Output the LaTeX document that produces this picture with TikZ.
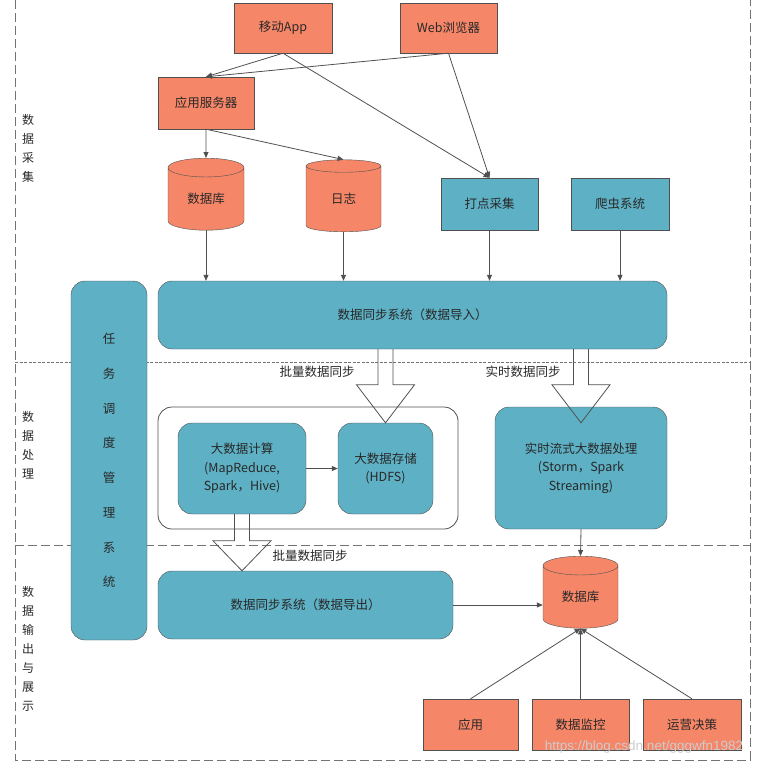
\documentclass[tikz,border=0pt]{standalone}
\usepackage{fontspec}
\setmainfont{Noto Sans CJK SC}
\newfontfamily\wmfont{Liberation Sans}
\usetikzlibrary{shapes,shapes.geometric}
\usetikzlibrary{calc,arrows.meta}
\definecolor{salmon}{RGB}{246,134,104}
\definecolor{tealbox}{RGB}{94,176,196}
\definecolor{edge}{RGB}{80,80,80}
\definecolor{ink}{RGB}{40,40,40}
\tikzstyle{obox}=[draw=edge, fill=salmon, text=ink, inner sep=0pt, font=\fontsize{12.5}{15}\selectfont]
\tikzstyle{tbox}=[draw=edge, fill=tealbox, text=ink, inner sep=0pt, rounded corners=14pt, align=center, font=\fontsize{12.5}{18.5}\selectfont]
\tikzstyle{dbase}=[cylinder, shape border rotate=90, aspect=0.5, draw=edge, fill=salmon, text=ink, inner sep=0pt, font=\fontsize{12.5}{15}\selectfont]
\tikzstyle{stage}=[text=ink, align=center, inner sep=0pt, font=\fontsize{12}{19}\selectfont]
\tikzstyle{flow}=[draw=edge, line width=0.8pt, -{Triangle[length=6pt,width=5pt]}]
\tikzstyle{hollow}=[draw=edge, line width=0.8pt, line join=miter]
\tikzstyle{frame}=[draw=edge!80, line width=1pt, dash pattern=on 9pt off 4pt]
\tikzstyle{sepfine}=[draw=edge!80, line width=0.9pt, dash pattern=on 3pt off 1.5pt]
\newcommand{\hollowarrow}[3][38]{%
\draw[hollow] let \p1=#2, \p2=#3 in
  (\x1-7.5pt,\y1) -- (\x1-7.5pt,\y2+#1pt) -- (\x1-29pt,\y2+#1pt) -- (\x2,\y2)
  -- (\x1+29pt,\y2+#1pt) -- (\x1+7.5pt,\y2+#1pt) -- (\x1+7.5pt,\y1);}

\begin{document}
\begin{tikzpicture}[x=1pt,y=-1pt]
\useasboundingbox (0,0) rectangle (770,766);
% stages
\draw[frame] (15,0) -- (15,760) -- (750,760) -- (750,0);
\draw[sepfine] (15,362) -- (750,362);
\draw[frame] (15,545) -- (750,545);
\node[stage] (st1) at (28,148) {数\\据\\采\\集};
\node[stage] (st2) at (28,445.5) {数\\据\\处\\理};
\node[stage] (st3) at (28,649) {数\\据\\输\\出\\与\\展\\示};

% collection
\node[obox, minimum width=98pt, minimum height=50pt] (app) at (283,28) {移动App};
\node[obox, minimum width=97pt, minimum height=50pt] (web) at (448.5,28) {Web浏览器};
\node[obox, minimum width=96pt, minimum height=52pt] (srv) at (206,103) {应用服务器};
\node[dbase, minimum width=76pt, minimum height=72pt] (db) at (206,199) {数据库};
\node[dbase, minimum width=75pt, minimum height=72pt] (log) at (343.5,199) {日志};
\node[obox, fill=tealbox, minimum width=97pt, minimum height=52pt] (dot) at (489.5,204) {打点采集};
\node[obox, fill=tealbox, minimum width=98pt, minimum height=52pt] (crawl) at (620,204) {爬虫系统};
\node[tbox, minimum width=509pt, minimum height=68pt] (imp) at (412.5,315) {数据同步系统（数据导入）};

\draw[flow] (app.south) -- (srv.north);
\draw[flow] (web.south) -- (srv.north);
\draw[flow] (app.south) -- (dot.north);
\draw[flow] (web.south) -- (dot.north);
\draw[flow] (srv.south) -- (db.north);
\draw[flow] (srv.south) -- (log.north);
\draw[flow] (db.south) -- (db.south |- imp.north);
\draw[flow] (log.south) -- (log.south |- imp.north);
\draw[flow] (dot.south) -- (dot.south |- imp.north);
\draw[flow] (crawl.south) -- (crawl.south |- imp.north);

% scheduler
\node[tbox, minimum width=76pt, minimum height=359pt, font=\fontsize{12.5}{34.7}\selectfont] (task) at (109,460.5) {任\\务\\调\\度\\管\\理\\系\\统};

% processing
\node[draw=edge, fill=white, rounded corners=14pt, line width=0.8pt, minimum width=300pt, minimum height=122pt] (batch) at (308,468) {};
\node[tbox, minimum width=128pt, minimum height=91pt] (calc) at (242,468.5) {大数据计算\\(MapReduce,\\Spark，Hive)};
\node[tbox, minimum width=95pt, minimum height=91pt] (store) at (385.5,468.5) {大数据存储\\(HDFS)};
\node[tbox, minimum width=172pt, minimum height=122pt] (rt) at (581,468) {实时流式大数据处理\\(Storm，Spark\\Streaming)};
\draw[flow] (calc.east) -- (store.west);

% output
\node[tbox, minimum width=295pt, minimum height=68pt] (exp) at (305.5,605) {数据同步系统（数据导出）};
\node[dbase, minimum width=75pt, minimum height=72pt] (db2) at (580.5,597) {数据库};
\node[obox, minimum width=95pt, minimum height=51pt] (use) at (470.5,724.5) {应用};
\node[obox, minimum width=97pt, minimum height=51pt] (mon) at (580.5,724.5) {数据监控};
\node[obox, minimum width=98pt, minimum height=51pt] (ops) at (692,724.5) {运营决策};
\draw[flow] (rt.south) -- (db2.north);
\draw[flow] (exp.east) -- (exp.east -| db2.west);
\draw[flow] (use.north) -- (db2.south);
\draw[flow] (mon.north) -- (db2.south);
\draw[flow] (ops.north) -- (db2.south);

% sync arrows
\hollowarrow{(store.north |- imp.south)}{(store.north)}
\hollowarrow{(rt.north |- imp.south)}{($(rt.north)+(0,16)$)}
\hollowarrow[30]{(calc.south)}{(calc.south |- exp.north)}
\node[stage, font=\fontsize{12.5}{15}\selectfont] (lb1) at (317,372) {批量数据同步};
\node[stage, font=\fontsize{12.5}{15}\selectfont] (lb2) at (523,372) {实时数据同步};
\node[stage, font=\fontsize{12.5}{15}\selectfont] (lb3) at (310,556) {批量数据同步};

\node[text=gray!40, inner sep=0pt, font=\wmfont\fontsize{13.5}{15}\selectfont] (wm) at (644,747) {https://blog.csdn.net/gggwfn1982};
\end{tikzpicture}
\end{document}
